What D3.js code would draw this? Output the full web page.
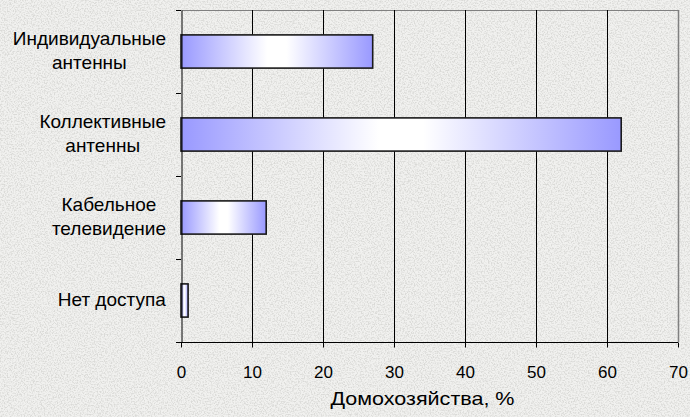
<!DOCTYPE html>
<html>
<head>
<meta charset="utf-8">
<script src="https://cdn.jsdelivr.net/npm/d3@7"></script>
<style>
  body { margin: 0; background: #ececea; }
  svg { display: block; font-family: "Liberation Sans", Arial, sans-serif; }
</style>
</head>
<body>
<script>
// Данные
var categories = [
  ["Индивидуальные", "антенны"],
  ["Коллективные", "антенны"],
  ["Кабельное", "телевидение"],
  ["Нет доступа"]
]
var values = [27, 62, 12, 1]
var xTicks = [0, 10, 20, 30, 40, 50, 60, 70]
var xTitle = "Домохозяйства, %"

var width = 690
var height = 417
var margin = { top: 10, right: 12, bottom: 75, left: 181 }

var svg = d3.select("body").append("svg")
  .attr("width", width)
  .attr("height", height)

var defs = svg.append("defs")

// текстура фона
var f = defs.append("filter").attr("id", "paper")
  .attr("x", 0).attr("y", 0).attr("width", "100%").attr("height", "100%")
f.append("feTurbulence")
  .attr("type", "fractalNoise")
  .attr("baseFrequency", 0.7)
  .attr("numOctaves", 2)
  .attr("seed", 7)
f.append("feColorMatrix")
  .attr("type", "matrix")
  .attr("values", "0 0 0 0 0.7  0 0 0 0 0.7  0 0 0 0 0.68  3.4 0 0 0 -1.45")

var grad = defs.append("linearGradient").attr("id", "barGrad")
  .attr("x1", "0%").attr("x2", "100%").attr("y1", "0%").attr("y2", "0%")
grad.append("stop").attr("offset", "0%").attr("stop-color", "#9999ff")
grad.append("stop").attr("offset", "45%").attr("stop-color", "#ffffff")
grad.append("stop").attr("offset", "55%").attr("stop-color", "#ffffff")
grad.append("stop").attr("offset", "100%").attr("stop-color", "#9999ff")

svg.append("rect").attr("width", width).attr("height", height).attr("fill", "#f1f1ef")
svg.append("rect").attr("width", width).attr("height", height).attr("filter", "url(#paper)")

var x = d3.scaleLinear()
  .domain([0, 70])
  .range([margin.left, width - margin.right])

var y = d3.scaleBand()
  .domain(d3.range(categories.length))
  .range([margin.top, height - margin.bottom])
  .paddingInner(0.6)
  .paddingOuter(0.3)

var yOuter = d3.scaleBand()
  .domain(d3.range(categories.length))
  .range([margin.top, height - margin.bottom])

var px = v => Math.round(x(v)) + 0.5

// рамка
svg.append("line")
  .attr("x1", px(0)).attr("x2", px(70))
  .attr("y1", margin.top + 0.5).attr("y2", margin.top + 0.5)
  .attr("stroke", "#808080")
svg.append("line")
  .attr("x1", px(70)).attr("x2", px(70))
  .attr("y1", margin.top).attr("y2", height - margin.bottom)
  .attr("stroke", "#808080")
  .attr("stroke-width", 1.5)

// сетка
svg.append("g").selectAll("line")
  .data(xTicks.slice(1, -1))
  .enter().append("line")
  .attr("x1", d => px(d)).attr("x2", d => px(d))
  .attr("y1", margin.top).attr("y2", height - margin.bottom)
  .attr("stroke", "#000")
  .attr("stroke-width", 1)

// столбцы
svg.append("g").selectAll("rect")
  .data(values)
  .enter().append("rect")
  .attr("x", x(0))
  .attr("y", (d, i) => y(i))
  .attr("width", d => x(d) - x(0))
  .attr("height", y.bandwidth())
  .attr("fill", "url(#barGrad)")
  .attr("stroke", "#1a1a1a")
  .attr("stroke-width", 1.6)

// ось X
var ejeX = d3.axisBottom(x).tickValues(xTicks).tickSize(5).tickPadding(18)
var gx = svg.append("g")
  .attr("transform", "translate(0," + (height - margin.bottom + 0.5) + ")")
  .call(ejeX)
gx.select(".domain").attr("stroke", "#000").attr("d", "M" + (x(0) - 5) + ",0H" + x(70))
gx.selectAll(".tick line").attr("stroke", "#000")
gx.selectAll("text").attr("font-size", 17).attr("fill", "#000").attr("font-family", "Liberation Sans, Arial, sans-serif")

svg.append("text")
  .attr("x", (x(0) + x(70)) / 2 - 7)
  .attr("y", 405)
  .attr("text-anchor", "middle")
  .attr("font-size", 19)
  .attr("textLength", 184)
  .attr("lengthAdjust", "spacingAndGlyphs")
  .text(xTitle)

// ось Y
var ejeY = d3.axisLeft(yOuter).tickValues([]).tickSizeOuter(0)
svg.append("g")
  .attr("transform", "translate(" + px(0) + ",0)")
  .call(ejeY)
  .select(".domain").attr("stroke", "#000")

svg.append("g").selectAll("line")
  .data(d3.range(categories.length + 1))
  .enter().append("line")
  .attr("x1", x(0) - 5).attr("x2", x(0))
  .attr("y1", d => Math.round(margin.top + d * yOuter.step()) + 0.5)
  .attr("y2", d => Math.round(margin.top + d * yOuter.step()) + 0.5)
  .attr("stroke", "#000")

// подписи категорий
var lineH = 24
var labels = svg.append("g").selectAll("text")
  .data(categories)
  .enter().append("text")
  .attr("font-size", 19)
  .attr("text-anchor", "middle")
  .attr("fill", "#000")

labels.each(function (lines, i) {
  var t = d3.select(this)
  var cy = yOuter(i) + yOuter.bandwidth() / 2
  lines.forEach(function (s, k) {
    t.append("tspan")
      .attr("x", 0)
      .attr("y", cy + 5.5 + (k - (lines.length - 1) / 2) * lineH)
      .text(s)
  })
  var w = this.getBBox().width
  t.selectAll("tspan").attr("x", 166 - w / 2)
})
</script>
</body>
</html>
